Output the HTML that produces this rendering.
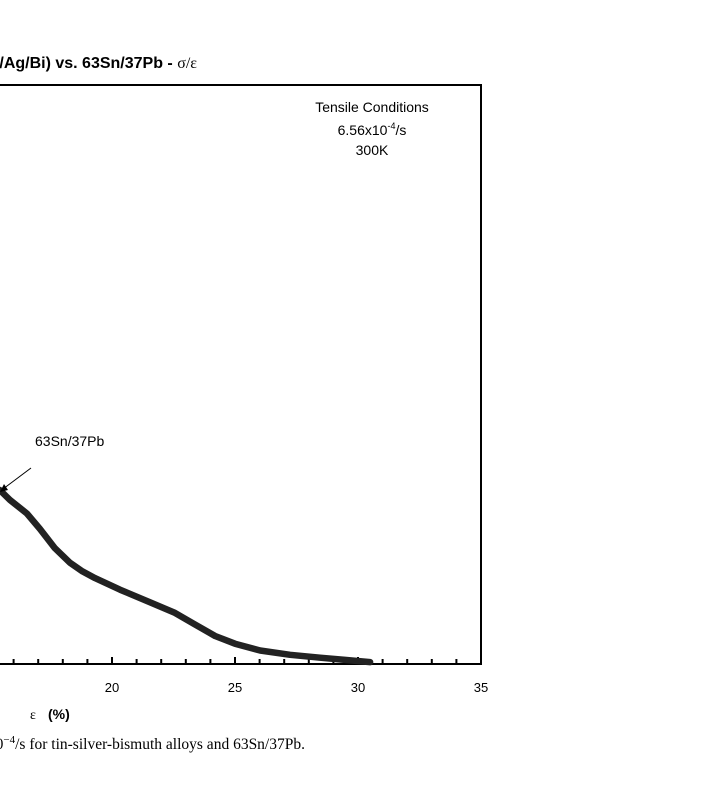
<!DOCTYPE html>
<html><head><meta charset="utf-8"><style>
html,body{margin:0;padding:0;background:#fff;}
svg{display:block;}
</style></head><body>
<svg id="chart" width="716" height="800" viewBox="0 0 716 800" xmlns="http://www.w3.org/2000/svg">
  <text x="197" y="68" text-anchor="end" font-family="Liberation Sans, sans-serif" font-weight="bold" font-size="16">(Sn/Ag/Bi) vs. 63Sn/37Pb - <tspan font-family="Liberation Serif, serif" font-weight="normal" font-size="16">σ/ε</tspan></text>
  <rect x="-10" y="85" width="491" height="579" fill="none" stroke="#000" stroke-width="2"/>
  <g id="xticks"></g>
  <g font-family="Liberation Sans, sans-serif" font-size="14" text-anchor="middle">
    <text x="372" y="112">Tensile Conditions</text>
    <text x="372" y="135">6.56x10<tspan dy="-6" font-size="9">-4</tspan><tspan dy="6">/s</tspan></text>
    <text x="372" y="155">300K</text>
  </g>
  <path id="curve" fill="none" stroke="#222" stroke-width="6.5" stroke-linejoin="round" stroke-linecap="round"/>
  <text x="35" y="446" font-family="Liberation Sans, sans-serif" font-size="14">63Sn/37Pb</text>
  <line x1="31" y1="468" x2="3" y2="489" stroke="#000" stroke-width="1"/>
  <polygon points="0,492 4,484 8,490" fill="#000"/>
  <text x="30" y="719" font-family="Liberation Serif, serif" font-size="14">ε</text>
  <text x="48" y="719" font-family="Liberation Sans, sans-serif" font-weight="bold" font-size="14">(%)</text>
  <text x="305" y="749" text-anchor="end" font-family="Liberation Serif, serif" font-size="15.5">10<tspan dy="-6" font-size="11">−4</tspan><tspan dy="6">/s for tin-silver-bismuth alloys and 63Sn/37Pb.</tspan></text>
</svg>
<script>
const strain = [15.0,15.45,15.85,16.54,17.07,17.68,18.29,18.8,19.31,20.33,21.54,22.56,23.37,24.19,25.0,26.02,27.24,28.46,29.47,30.49];
const stress = [18.6,18.0,17.0,15.6,14.0,12.0,10.5,9.6,8.9,7.7,6.4,5.3,4.1,2.9,2.1,1.4,0.95,0.65,0.42,0.2];
const xTickLabels = ["20","25","30","35"];
const xTickValues = [20,25,30,35];
const X = v => 112 + (v-20)*24.6;
const Y = v => 664 - v*9.65;
const svgNS = "http://www.w3.org/2000/svg";
let d = strain.map((s,i)=>(i?"L":"M")+X(s).toFixed(1)+","+Y(stress[i]).toFixed(1)).join(" ");
document.getElementById('curve').setAttribute('d', d);
const g = document.getElementById('xticks');
for (let v=15; v<=35; v++) {
  const t = document.createElementNS(svgNS,'line');
  
  
  t.setAttribute('x1',X(v)); t.setAttribute('x2',X(v));
  t.setAttribute('y1',664); t.setAttribute('y2', v%5===0 ? 657 : 659);
  t.setAttribute('stroke','#000'); t.setAttribute('stroke-width','2');
  g.appendChild(t);
}
xTickValues.forEach((v,i)=>{
  const tx = document.createElementNS(svgNS,'text');
  
  
  tx.setAttribute('x',X(v)); tx.setAttribute('y',692);
  tx.setAttribute('text-anchor','middle');
  tx.setAttribute('font-family','Liberation Sans, sans-serif');
  tx.setAttribute('font-size','13');
  tx.textContent = xTickLabels[i];
  g.appendChild(tx);
});
</script>
</body></html>
